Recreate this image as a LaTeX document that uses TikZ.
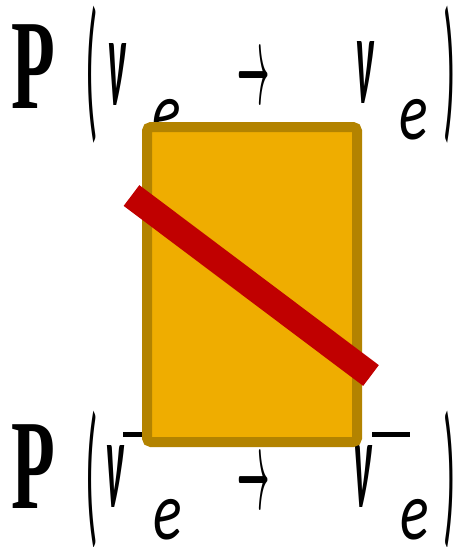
\documentclass[tikz,border=0pt]{standalone}
\usepackage{graphicx}
\usepackage{fontspec}
\setmainfont{Carlito}
\newfontfamily\pfont{Liberation Serif}
\usepackage{xcolor}
\definecolor{amber}{RGB}{239,173,0}
\definecolor{amberedge}{RGB}{179,131,0}
\definecolor{crimson}{RGB}{192,0,0}
\usetikzlibrary{positioning}
\newcommand{\bigarrow}{\resizebox*{32.2pt}{44.4pt}{\boldmath$\rightarrow$}}

\begin{document}
\begin{tikzpicture}[
  x=1pt,y=-1pt,
  glyph/.style={inner sep=0pt,outer sep=0pt},
  bigP/.style={glyph,anchor=base west,xscale=0.56,
               font=\pfont\bfseries\fontsize{128}{128}\selectfont},
  paren/.style={glyph,xscale=0.26,font=\fontsize{158}{158}\selectfont},
  nu/.style={glyph,xscale=0.3,font=\bfseries\itshape\fontsize{128}{128}\selectfont},
  sub/.style={glyph,xscale=0.72,font=\itshape\fontsize{83}{83}\selectfont},
  arr/.style={glyph},
  overbar/.style={line width=5pt},
]
  \useasboundingbox (0,0) rectangle (459,547);
  %% top line
  \node[bigP](P1) at (11,108) {P};
  \node[paren](lp1) at (91.5,75) {(};
  \node[nu](nu1) at (116.5,74) {ν};
  \node[sub](e1) at (167,120) {e};
  \node[arr](ar1) at (254,81.2) {\bigarrow};
  \node[nu](nu2) at (364.5,72) {ν};
  \node[sub](e2) at (414,120) {e};
  \node[paren](rp1) at (450,75) {)};
  %% bottom line
  \node[bigP](P2) at (11,508) {P};
  \node[paren](lp2) at (91.5,480) {(};
  \node[nu](nu3) at (115,476.5) {ν};
  \node[sub](e3) at (167.5,520) {e};
  \node[arr](ar2) at (254,486.2) {\bigarrow};
  \node[nu](nu4) at (362.5,476.5) {ν};
  \node[sub](e4) at (414.5,520) {e};
  \node[paren](rp2) at (450,480) {)};
  \draw[overbar] (123,434) -- (161,434);
  \draw[overbar] (372,434) -- (410,434);
  %% box and slash
  \draw[amberedge,fill=amber,line width=10pt,rounded corners=4pt]
    (147,127) rectangle (357,442);
  \coordinate (s1) at (131.5,195.5);
  \coordinate (s2) at (371,375.5);
  \draw[crimson,line width=26pt] (s1) -- (s2);
\end{tikzpicture}
\end{document}
